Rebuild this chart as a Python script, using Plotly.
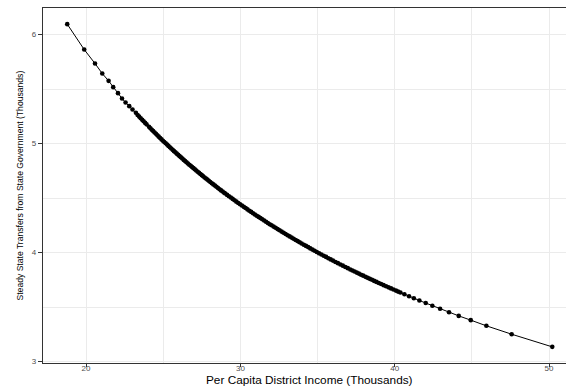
import plotly.graph_objects as go

# Per capita district income (thousands)
income = [18.78, 19.88, 20.58, 21.05, 21.46, 21.76, 22.07, 22.33, 22.56, 22.80, 23.01, 23.23,
          23.34, 23.44, 23.54, 23.64, 23.73, 23.83, 23.92,
          24.08, 24.17, 24.26, 24.35, 24.44, 24.53, 24.62, 24.71, 24.80, 24.89, 24.98,
          25.07, 25.16, 25.25, 25.34, 25.43, 25.52, 25.61, 25.70, 25.79, 25.88, 25.97,
          26.06, 26.15, 26.24, 26.33, 26.42, 26.51, 26.60, 26.69, 26.78, 26.87, 26.96,
          27.05, 27.14, 27.23, 27.32, 27.41, 27.50, 27.59, 27.68, 27.77, 27.86, 27.95,
          28.05, 28.15, 28.25, 28.35, 28.45, 28.55, 28.65, 28.75, 28.85, 28.95,
          29.02, 29.14, 29.26, 29.38, 29.50, 29.62, 29.74, 29.86, 29.98,
          30.10, 30.22, 30.34, 30.46, 30.58, 30.70, 30.82, 30.94,
          31.06, 31.18, 31.30, 31.42, 31.54, 31.66, 31.78, 31.90,
          32.02, 32.15, 32.28, 32.41, 32.54, 32.67, 32.80, 32.93,
          33.06, 33.19, 33.32, 33.45, 33.58, 33.71, 33.84, 33.97,
          34.11, 34.25, 34.39, 34.53, 34.67, 34.81, 34.95,
          35.10, 35.25, 35.40, 35.55, 35.70, 35.85,
          36.00, 36.16, 36.32, 36.48, 36.64, 36.80, 36.96,
          37.12, 37.26, 37.40, 37.54, 37.68, 37.82, 37.96,
          38.11, 38.25, 38.39, 38.53, 38.67, 38.82, 38.97,
          39.12, 39.28, 39.44, 39.60, 39.76, 39.92,
          40.08, 40.22,
          40.37, 40.63, 40.93, 41.24, 41.60, 42.01, 42.44, 42.94, 43.52, 44.15,
          44.93, 45.94, 47.58, 50.21]

# Steady state transfers from state government (thousands)
transfers = [6.095, 5.862, 5.734, 5.642, 5.575, 5.517, 5.462, 5.413, 5.376, 5.343, 5.312, 5.282,
             5.262, 5.247, 5.232, 5.217, 5.204, 5.189, 5.176,
             5.153, 5.140, 5.127, 5.114, 5.101, 5.089, 5.076, 5.063, 5.051, 5.038, 5.026,
             5.014, 5.002, 4.990, 4.978, 4.966, 4.954, 4.942, 4.930, 4.919, 4.907, 4.896,
             4.884, 4.873, 4.862, 4.850, 4.839, 4.828, 4.817, 4.806, 4.795, 4.784, 4.774,
             4.763, 4.752, 4.741, 4.731, 4.720, 4.710, 4.700, 4.689, 4.679, 4.669, 4.658,
             4.647, 4.636, 4.625, 4.614, 4.603, 4.592, 4.581, 4.570, 4.560, 4.549,
             4.542, 4.529, 4.517, 4.505, 4.492, 4.480, 4.467, 4.455, 4.443,
             4.431, 4.419, 4.408, 4.396, 4.384, 4.373, 4.361, 4.349,
             4.338, 4.327, 4.316, 4.305, 4.294, 4.283, 4.271, 4.260,
             4.250, 4.238, 4.227, 4.215, 4.204, 4.192, 4.181, 4.170,
             4.159, 4.148, 4.137, 4.126, 4.115, 4.105, 4.094, 4.083,
             4.072, 4.061, 4.050, 4.038, 4.027, 4.016, 4.005,
             3.994, 3.982, 3.971, 3.960, 3.948, 3.937,
             3.926, 3.914, 3.903, 3.891, 3.880, 3.868, 3.857,
             3.845, 3.835, 3.826, 3.816, 3.807, 3.797, 3.788,
             3.777, 3.768, 3.759, 3.750, 3.740, 3.731, 3.721,
             3.711, 3.701, 3.691, 3.681, 3.671, 3.661,
             3.651, 3.642,
             3.634, 3.618, 3.599, 3.581, 3.560, 3.537, 3.512, 3.484, 3.453, 3.419,
             3.380, 3.328, 3.251, 3.135]

x_ticks = [20, 30, 40, 50]
x_minor = [25, 35, 45]
y_ticks = [3, 4, 5, 6]
y_minor = [3.5, 4.5, 5.5]

x_title = "Per Capita District Income (Thousands)"
y_title = "Steady State Transfers from State Government (Thousands)"

fig = go.Figure()
fig.add_trace(go.Scatter(
    x=income, y=transfers, mode="lines+markers",
    line=dict(color="black", width=1),
    marker=dict(color="black", size=4.6, line=dict(width=0)),
    showlegend=False, hoverinfo="skip",
))

grid = "#EBEBEB"
axis_common = dict(
    showgrid=True, gridcolor=grid, gridwidth=1,
    zeroline=False, showline=True, linecolor="#333333", linewidth=1.2,
    ticks="outside", tickwidth=1, tickcolor="#333333",
    tickfont=dict(family="Liberation Sans, Arial, sans-serif", size=8, color="#4D4D4D"),
)

fig.update_xaxes(
    range=[17.21, 51.10], tickvals=x_ticks, mirror=True, ticklen=3, ticklabelstandoff=-6,
    minor=dict(tickvals=x_minor, showgrid=True, gridcolor=grid, gridwidth=0.8, ticks=""),
    **axis_common,
)
fig.update_yaxes(
    range=[2.987, 6.243], tickvals=y_ticks, mirror=False, ticklen=4,
    minor=dict(tickvals=y_minor, showgrid=True, gridcolor=grid, gridwidth=0.8, ticks=""),
    **axis_common,
)

fig.add_annotation(
    text=x_title, xref="paper", yref="paper", x=0.510, y=0, yshift=-16.5,
    xanchor="center", yanchor="middle", showarrow=False,
    font=dict(family="Liberation Sans, Arial, sans-serif", size=11.8, color="black"),
)
fig.add_annotation(
    text=y_title, xref="paper", yref="paper", x=0, xshift=-24, y=0.5,
    xanchor="center", yanchor="middle", textangle=-90, showarrow=False,
    font=dict(family="Liberation Sans, Arial, sans-serif", size=8.6, color="black"),
)

fig.update_layout(
    width=566, height=390,
    margin=dict(l=43, r=0, t=8, b=27),
    plot_bgcolor="white", paper_bgcolor="white",
)

fig.write_html("out.html")
